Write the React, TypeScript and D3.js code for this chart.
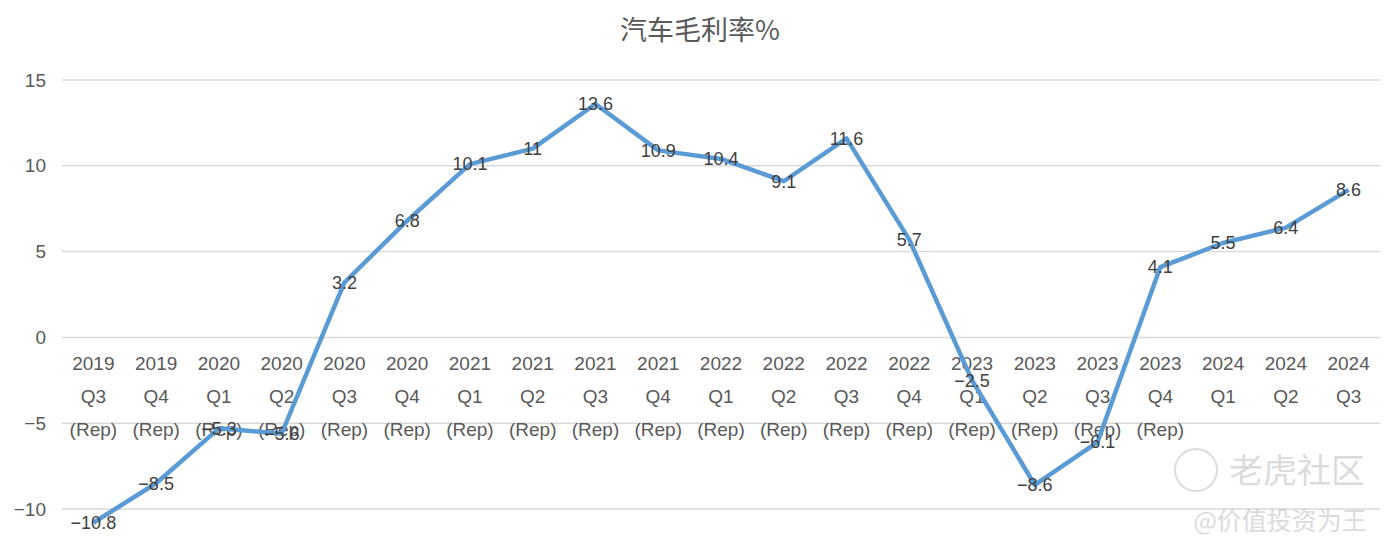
import React from "react";
import * as d3 from "d3";

const years = ["2019","2019","2020","2020","2020","2020","2021","2021","2021","2021","2022","2022","2022","2022","2023","2023","2023","2023","2024","2024","2024"];
const quarters = ["Q3","Q4","Q1","Q2","Q3","Q4","Q1","Q2","Q3","Q4","Q1","Q2","Q3","Q4","Q1","Q2","Q3","Q4","Q1","Q2","Q3"];
const suffixes = ["(Rep)","(Rep)","(Rep)","(Rep)","(Rep)","(Rep)","(Rep)","(Rep)","(Rep)","(Rep)","(Rep)","(Rep)","(Rep)","(Rep)","(Rep)","(Rep)","(Rep)","(Rep)","","",""];
const margins = [-10.8,-8.5,-5.3,-5.6,3.2,6.8,10.1,11,13.6,10.9,10.4,9.1,11.6,5.7,-2.5,-8.6,-6.1,4.1,5.5,6.4,8.6];
const yTicks = [-10,-5,0,5,10,15];
const title = "汽车毛利率%";

const W = 1393, H = 552;
const FONT = "'Liberation Sans', 'Noto Sans CJK SC', sans-serif";

export default function App() {
  const cats = years.map((_, i) => String(i));
  const x = d3.scaleBand().domain(cats).range([62, 1380]);
  const y = d3.scaleLinear().domain([-10, 15]).range([509, 80]);
  const cx = (i: number) => (x(String(i)) as number) + x.bandwidth() / 2;
  const line = d3.line<number>().x((_, i) => cx(i)).y(d => y(d));
  const fmt = (v: number) => (v < 0 ? "\u2212" + Math.abs(v) : String(v));
  return (
    <svg width={W} height={H} style={{ position: "absolute", left: 0, top: 0, background: "#fff" }}>
      <text x={700} y={40} textAnchor="middle" fontSize={27} fill="#595959" fontFamily="'Noto Sans CJK SC', sans-serif">{title}</text>
      {yTicks.map(t => (
        <g key={t}>
          <line x1={62} x2={1380} y1={y(t)} y2={y(t)} stroke="#d9d9d9" strokeWidth={1.5} />
          <text x={46} y={y(t)} dy="0.35em" textAnchor="end" fontSize={19} fill="#595959" fontFamily={FONT}>{fmt(t)}</text>
        </g>
      ))}
      {cats.map((c, i) => (
        <g key={c} fontSize={19} fill="#595959" fontFamily={FONT} textAnchor="middle">
          <text x={cx(i)} y={370}>{years[i]}</text>
          <text x={cx(i)} y={403}>{quarters[i]}</text>
          {suffixes[i] && <text x={cx(i)} y={436}>{suffixes[i]}</text>}
        </g>
      ))}
      <path d={line(margins) || ""} fill="none" stroke="#5B9BD5" strokeWidth={4.5} strokeLinejoin="round" />
      {margins.map((v, i) => (
        <text key={i} x={cx(i)} y={y(v)} dy="0.35em" textAnchor="middle" fontSize={18} fill="#404040" fontFamily={FONT}>{fmt(v)}</text>
      ))}
      <g opacity={0.35}>
        <circle cx={1196} cy={470} r={21} fill="none" stroke="#999" strokeWidth={2} />
        <text x={1297} y={483} textAnchor="middle" fontSize={34} fill="#999" fontFamily="'Noto Sans CJK SC', sans-serif">老虎社区</text>
        <text x={1280} y={530} textAnchor="middle" fontSize={25} fill="#999" fontFamily="'Noto Sans CJK SC', sans-serif">@价值投资为王</text>
      </g>
    </svg>
  );
}
